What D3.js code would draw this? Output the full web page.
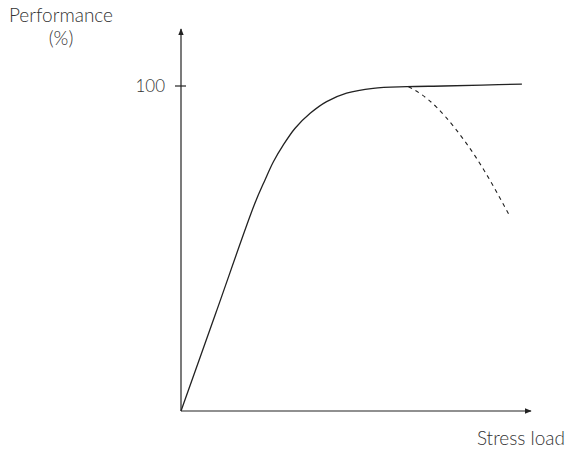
<!DOCTYPE html>
<html>
<head>
<meta charset="utf-8">
<script src="https://cdn.jsdelivr.net/npm/d3@7"></script>
<style>
  body { margin: 0; background: white; }
  text { font-family: Lato, "Open Sans", sans-serif; fill: #333; font-weight: 300; }
</style>
</head>
<body>
<div id="chart-area"></div>
<script>
// Data
const performanceX = [0, 1.0, 2.1, 2.4, 2.64, 2.92, 3.26, 3.69, 4.16, 4.73, 5.49, 6.45, 7.5, 8.6, 9.74];
const performanceY = [0, 30.3, 63.6, 71.1, 76.7, 81.8, 87.0, 91.6, 95.2, 97.8, 99.3, 99.8, 100.0, 100.3, 100.6];
const declineX = [6.5, 7.3, 8.4, 9.4];
const declineY = [99.8, 93.5, 78.5, 59.8];
const yTicks = [100];

const width = 567;
const height = 450;

const svg = d3.select("#chart-area")
    .append("svg")
    .attr("width", width)
    .attr("height", height);

svg.append("defs").append("marker")
    .attr("id", "arrow")
    .attr("viewBox", "0 0 10 10")
    .attr("refX", 9)
    .attr("refY", 5)
    .attr("markerWidth", 7)
    .attr("markerHeight", 7)
    .attr("markerUnits", "userSpaceOnUse")
    .attr("orient", "auto")
    .append("path")
    .attr("d", "M0,1 L10,5 L0,9 Z")
    .attr("fill", "#222");

// Scales
const x = d3.scaleLinear()
    .domain([0, 10])
    .range([181, 531]);

const y = d3.scaleLinear()
    .domain([0, 100])
    .range([411, 86]);

// Axes with arrows
svg.append("line")
    .attr("x1", x(0)).attr("y1", y(0))
    .attr("x2", x(0)).attr("y2", 29)
    .attr("stroke", "#222")
    .attr("stroke-width", 1.2)
    .attr("marker-end", "url(#arrow)");

svg.append("line")
    .attr("x1", x(0)).attr("y1", y(0))
    .attr("x2", x(10)).attr("y2", y(0))
    .attr("stroke", "#222")
    .attr("stroke-width", 1.2)
    .attr("marker-end", "url(#arrow)");

// Y ticks
const leftAxis = d3.axisLeft(y)
    .tickValues(yTicks)
    .tickSize(0)
    .tickPadding(16);

const yAxisGroup = svg.append("g")
    .attr("transform", "translate(" + x(0) + ",0)")
    .call(leftAxis);

yAxisGroup.select(".domain").remove();
yAxisGroup.selectAll("text")
    .attr("font-size", "17px")
    .attr("font-family", null);

svg.selectAll(".ytick")
    .data(yTicks)
    .enter().append("line")
    .attr("class", "ytick")
    .attr("x1", x(0) - 6).attr("x2", x(0) + 5)
    .attr("y1", d => y(d)).attr("y2", d => y(d))
    .attr("stroke", "#222")
    .attr("stroke-width", 1.2);

// Curves
const line = d3.line()
    .x(d => x(d[0]))
    .y(d => y(d[1]))
    .curve(d3.curveCatmullRom.alpha(0.5));

svg.append("path")
    .datum(d3.zip(performanceX, performanceY))
    .attr("d", line)
    .attr("fill", "none")
    .attr("stroke", "#222")
    .attr("stroke-width", 1.3);

// dashed decline branch
const dashLine = d3.line()
    .x(d => x(d[0]))
    .y(d => y(d[1]))
    .curve(d3.curveNatural);

svg.append("path")
    .datum(d3.zip(declineX, declineY))
    .attr("d", dashLine)
    .attr("fill", "none")
    .attr("stroke", "#222")
    .attr("stroke-width", 1.1)
    .attr("stroke-dasharray", "4,4");

// Labels
svg.append("text")
    .attr("x", 61)
    .attr("y", 22)
    .attr("text-anchor", "middle")
    .attr("font-size", "19px")
    .text("Performance");

svg.append("text")
    .attr("x", 61)
    .attr("y", 45)
    .attr("text-anchor", "middle")
    .attr("font-size", "19px")
    .text("(%)");

svg.append("text")
    .attr("x", 565)
    .attr("y", 445)
    .attr("text-anchor", "end")
    .attr("font-size", "19px")
    .text("Stress load");
</script>
</body>
</html>
